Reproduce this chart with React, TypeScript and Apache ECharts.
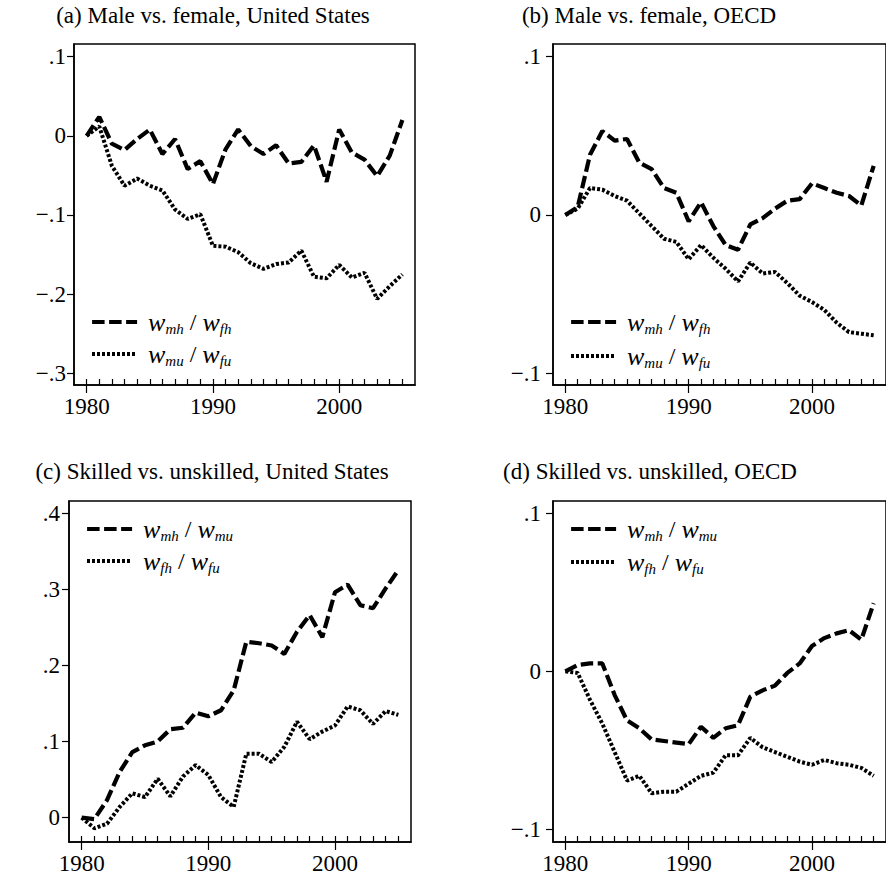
import React, { useEffect, useRef } from "react";
import * as echarts from "echarts";

const years = [1980, 1981, 1982, 1983, 1984, 1985, 1986, 1987, 1988, 1989, 1990, 1991, 1992, 1993, 1994, 1995, 1996, 1997, 1998, 1999, 2000, 2001, 2002, 2003, 2004, 2005];

// (a) Male vs. female, United States
const usGenderHigh = [0, 0.024, -0.01, -0.018, -0.004, 0.008, -0.023, -0.004, -0.042, -0.032, -0.061, -0.017, 0.008, -0.013, -0.023, -0.012, -0.035, -0.033, -0.012, -0.058, 0.008, -0.021, -0.03, -0.051, -0.025, 0.02];
const usGenderLow = [0, 0.012, -0.038, -0.063, -0.054, -0.063, -0.069, -0.093, -0.105, -0.099, -0.139, -0.14, -0.147, -0.161, -0.168, -0.162, -0.16, -0.145, -0.178, -0.18, -0.163, -0.179, -0.173, -0.206, -0.19, -0.175];
// (b) Male vs. female, OECD
const oecdGenderHigh = [0, 0.005, 0.038, 0.053, 0.047, 0.048, 0.033, 0.029, 0.017, 0.014, -0.004, 0.008, -0.007, -0.019, -0.022, -0.006, -0.002, 0.004, 0.009, 0.01, 0.02, 0.017, 0.014, 0.012, 0.006, 0.031];
const oecdGenderLow = [0, 0.004, 0.017, 0.016, 0.012, 0.009, 0.001, -0.007, -0.015, -0.017, -0.028, -0.019, -0.027, -0.034, -0.042, -0.03, -0.037, -0.036, -0.043, -0.051, -0.055, -0.06, -0.068, -0.074, -0.075, -0.076];
// (c) Skilled vs. unskilled, United States
const usSkillMale = [0, -0.002, 0.023, 0.06, 0.086, 0.095, 0.1, 0.116, 0.118, 0.138, 0.133, 0.141, 0.167, 0.231, 0.229, 0.226, 0.215, 0.244, 0.266, 0.237, 0.296, 0.306, 0.279, 0.275, 0.301, 0.325];
const usSkillFemale = [0, -0.014, -0.008, 0.014, 0.032, 0.027, 0.051, 0.028, 0.054, 0.069, 0.056, 0.027, 0.014, 0.084, 0.084, 0.073, 0.093, 0.126, 0.103, 0.113, 0.121, 0.146, 0.141, 0.123, 0.14, 0.135];
// (d) Skilled vs. unskilled, OECD
const oecdSkillMale = [0, 0.004, 0.005, 0.005, -0.015, -0.031, -0.036, -0.043, -0.044, -0.045, -0.046, -0.035, -0.042, -0.036, -0.034, -0.016, -0.012, -0.009, -0.001, 0.005, 0.016, 0.021, 0.024, 0.026, 0.02, 0.043];
const oecdSkillFemale = [0, -0.001, -0.018, -0.033, -0.051, -0.069, -0.066, -0.077, -0.076, -0.076, -0.071, -0.066, -0.064, -0.053, -0.053, -0.042, -0.048, -0.051, -0.054, -0.057, -0.059, -0.056, -0.058, -0.059, -0.061, -0.066];

const xLabelTicks = [1980, 1990, 2000];
const yTicksA = [0.1, 0, -0.1, -0.2, -0.3];
const yTicksB = [0.1, 0, -0.1];
const yTicksC = [0.4, 0.3, 0.2, 0.1, 0];
const yTicksD = [0.1, 0, -0.1];

const titles = [
  "(a) Male vs. female, United States",
  "(b) Male vs. female, OECD",
  "(c) Skilled vs. unskilled, United States",
  "(d) Skilled vs. unskilled, OECD",
];

// legend labels as rich text: [italic w, subscript, italic w, subscript]
const legendLabels: Record<string, string[]> = {
  a1: ["w", "mh", "w", "fh"],
  a2: ["w", "mu", "w", "fu"],
  b1: ["w", "mh", "w", "fh"],
  b2: ["w", "mu", "w", "fu"],
  c1: ["w", "mh", "w", "mu"],
  c2: ["w", "fh", "w", "fu"],
  d1: ["w", "mh", "w", "mu"],
  d2: ["w", "fh", "w", "fu"],
};

const FONT = '"Liberation Serif", "Times New Roman", "DejaVu Serif", serif';

const DASHED = { color: "#000", width: 4.2, type: [12.5, 4.5] as number[], cap: "butt" as const };
const DOTTED = { color: "#000", width: 4, type: [3, 2] as number[], cap: "butt" as const };

function fmtY(v: number) {
  if (Math.abs(v) < 1e-9) return "0";
  const s = Math.abs(v).toFixed(1).replace(/^0/, "");
  return (v < 0 ? "\u2212" : "") + s;
}

const panels = [
  {
    key: "a", grid: { left: 74, top: 44, width: 341, height: 341 }, yMin: -0.3148, yMax: 0.116, yTicks: yTicksA,
    labelMargin: 8, title: titles[0], titleX: 213, titleY: 15, legendLeft: 90, legendY: [323, 355],
    high: usGenderHigh, low: usGenderLow,
  },
  {
    key: "b", grid: { left: 553, top: 44, width: 341, height: 341 }, yMin: -0.1074, yMax: 0.108, yTicks: yTicksB,
    labelMargin: 12, title: titles[1], titleX: 649, titleY: 15, legendLeft: 569, legendY: [323, 357],
    high: oecdGenderHigh, low: oecdGenderLow,
  },
  {
    key: "c", grid: { left: 69, top: 501, width: 342, height: 341 }, yMin: -0.032, yMax: 0.4158, yTicks: yTicksC,
    labelMargin: 9, title: titles[2], titleX: 212, titleY: 471, legendLeft: 85, legendY: [530, 562],
    high: usSkillMale, low: usSkillFemale,
  },
  {
    key: "d", grid: { left: 553, top: 501, width: 341, height: 341 }, yMin: -0.1078, yMax: 0.1076, yTicks: yTicksD,
    labelMargin: 12, title: titles[3], titleX: 650, titleY: 471, legendLeft: 569, legendY: [530, 563],
    high: oecdSkillMale, low: oecdSkillFemale,
  },
];

function buildOption() {
  const grid: any[] = [];
  const xAxis: any[] = [];
  const yAxis: any[] = [];
  const series: any[] = [];
  const legend: any[] = [];
  const graphic: any[] = [];

  const rich = {
    w: { fontFamily: FONT, fontStyle: "italic", fontSize: 26, color: "#000", lineHeight: 28 },
    s: { fontFamily: FONT, fontStyle: "italic", fontSize: 15, color: "#000", lineHeight: 15, verticalAlign: "bottom" },
    sl: { fontFamily: FONT, fontSize: 24, color: "#000", lineHeight: 28 },
  };

  panels.forEach((p, i) => {
    grid.push({ ...p.grid, show: true, borderColor: "#000", borderWidth: 1.5, backgroundColor: "transparent", containLabel: false });
    // main x axis: yearly ticks inside + labels
    xAxis.push({
      type: "value", gridIndex: i, position: "bottom", min: 1979, max: 2006,
      axisLine: { show: true, onZero: false, lineStyle: { color: "#000", width: 1.5 } },
      axisTick: { show: true, inside: true, length: 6, customValues: years, lineStyle: { color: "#000", width: 1.2 } },
      axisLabel: { show: true, customValues: xLabelTicks, margin: 10, color: "#000", fontFamily: FONT, fontSize: 23, formatter: (v: number) => String(v) },
      splitLine: { show: false },
    });
    // secondary x axis: major ticks outside
    xAxis.push({
      type: "value", gridIndex: i, position: "bottom", offset: 0, min: 1979, max: 2006,
      axisLine: { show: false, onZero: false },
      axisTick: { show: true, inside: false, length: 8, customValues: xLabelTicks, lineStyle: { color: "#000", width: 1.2 } },
      axisLabel: { show: false },
      splitLine: { show: false },
    });
    yAxis.push({
      type: "value", gridIndex: i, min: p.yMin, max: p.yMax,
      axisLine: { show: true, onZero: false, lineStyle: { color: "#000", width: 1.5 } },
      axisTick: { show: true, inside: false, length: 7, customValues: p.yTicks, lineStyle: { color: "#000", width: 1.2 } },
      axisLabel: { show: true, customValues: p.yTicks, margin: p.labelMargin, color: "#000", fontFamily: FONT, fontSize: 23, formatter: fmtY },
      splitLine: { show: false },
    });
    const n1 = p.key + "1";
    const n2 = p.key + "2";
    series.push({
      name: n1, type: "line", xAxisIndex: i * 2, yAxisIndex: i, symbol: "none", showSymbol: false,
      data: years.map((y, k) => [y, p.high[k]]), lineStyle: DASHED, silent: true, z: 3,
    });
    series.push({
      name: n2, type: "line", xAxisIndex: i * 2, yAxisIndex: i, symbol: "none", showSymbol: false,
      data: years.map((y, k) => [y, p.low[k]]), lineStyle: DOTTED, silent: true, z: 2,
    });
    [n1, n2].forEach((nm, j) => {
      const ls = j === 0 ? DASHED : DOTTED;
      legend.push({
        show: true, data: [nm], left: p.legendLeft, top: p.legendY[j] - 14, padding: 0,
        orient: "horizontal", itemWidth: 45, itemHeight: 12, itemGap: 0, selectedMode: false,
        itemStyle: { opacity: 0, color: "rgba(0,0,0,0)", borderWidth: 0 },
        lineStyle: { width: ls.width, type: ls.type, color: "#000", cap: "butt" },
        formatter: (name: string) => {
          const t = legendLabels[name];
          return `{sl| }{w|${t[0]}}{s|${t[1]}}{sl| / }{w|${t[2]}}{s|${t[3]}}`;
        },
        textStyle: { color: "#000", fontFamily: FONT, rich },
      });
    });
    graphic.push({
      type: "text", x: p.titleX, y: p.titleY, silent: true,
      style: { text: p.title, fontFamily: FONT, fontSize: 23, fill: "#000", align: "center", verticalAlign: "middle", textAlign: "center", textVerticalAlign: "middle" },
    });
  });

  return { animation: false, backgroundColor: "#fff", grid, xAxis, yAxis, series, legend, graphic };
}

export default function App() {
  const ref = useRef<HTMLDivElement>(null);
  useEffect(() => {
    if (!ref.current) return;
    const chart = echarts.init(ref.current, undefined, { renderer: "svg" });
    chart.setOption(buildOption() as any);
    return () => chart.dispose();
  }, []);
  return <div ref={ref} style={{ position: "absolute", left: 0, top: 0, width: 886, height: 877, overflow: "hidden" }} />;
}
